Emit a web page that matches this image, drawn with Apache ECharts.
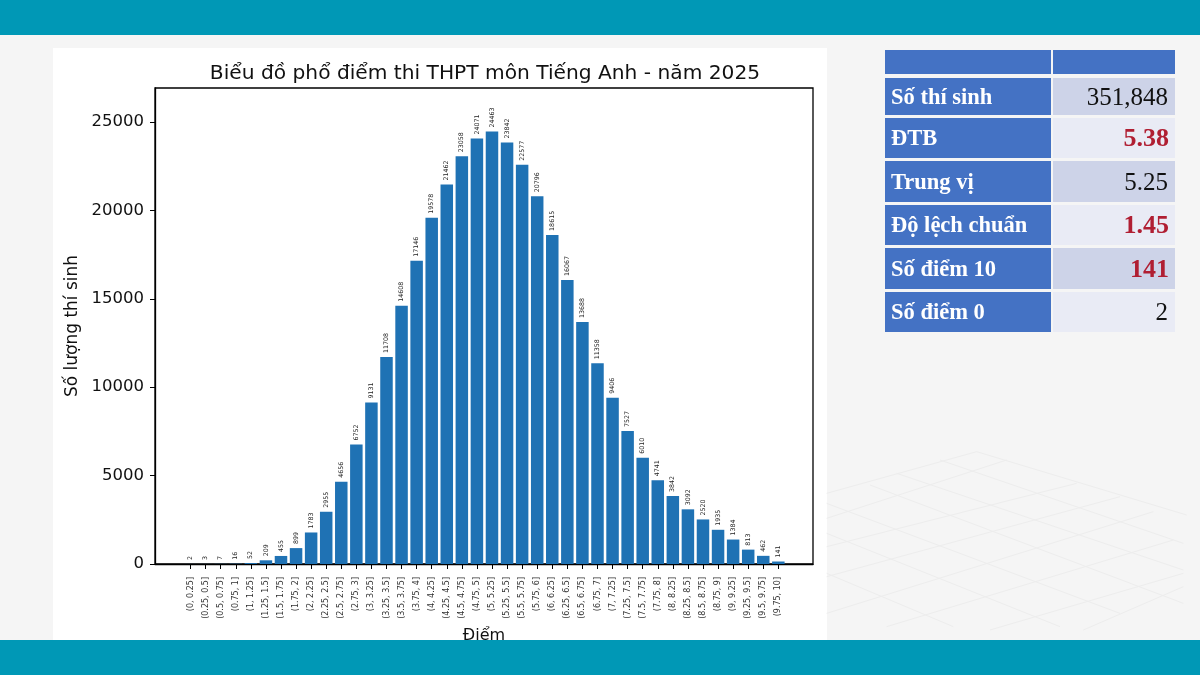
<!DOCTYPE html>
<html><head><meta charset="utf-8">
<style>html,body{margin:0;padding:0;background:#f5f5f5}#c{width:1200px;height:675px;filter:blur(0.4px)}</style>
<script src="https://cdn.jsdelivr.net/npm/echarts@6/dist/echarts.min.js"></script>
</head><body><div id="c"></div>
<script>
const categories = ['(0, 0.25]','(0.25, 0.5]','(0.5, 0.75]','(0.75, 1]','(1, 1.25]','(1.25, 1.5]','(1.5, 1.75]','(1.75, 2]','(2, 2.25]','(2.25, 2.5]','(2.5, 2.75]','(2.75, 3]','(3, 3.25]','(3.25, 3.5]','(3.5, 3.75]','(3.75, 4]','(4, 4.25]','(4.25, 4.5]','(4.5, 4.75]','(4.75, 5]','(5, 5.25]','(5.25, 5.5]','(5.5, 5.75]','(5.75, 6]','(6, 6.25]','(6.25, 6.5]','(6.5, 6.75]','(6.75, 7]','(7, 7.25]','(7.25, 7.5]','(7.5, 7.75]','(7.75, 8]','(8, 8.25]','(8.25, 8.5]','(8.5, 8.75]','(8.75, 9]','(9, 9.25]','(9.25, 9.5]','(9.5, 9.75]','(9.75, 10]'];
const counts = [2,3,7,16,52,209,455,899,1783,2955,4656,6752,9131,11708,14608,17146,19578,21462,23058,24071,24463,23842,22577,20796,18615,16067,13688,11358,9406,7527,6010,4741,3842,3092,2520,1935,1384,813,462,141];
const yTicks = [0,5000,10000,15000,20000,25000];
const tableLabels = ['Số thí sinh','ĐTB','Trung vị','Độ lệch chuẩn','Số điểm 10','Số điểm 0'];
const tableValues = ['351,848','5.38','5.25','1.45','141','2'];
const tableRed = [false,true,false,true,true,false];

const FONT = '"DejaVu Sans"';
const rowTops = [78,118,161,205,248,292], rowBottoms = [115,158,202,245,289,332];
const rowFill = ['#CDD3E8','#E9EBF5','#CDD3E8','#E9EBF5','#CDD3E8','#E9EBF5'];
const gridLines = [[470,35,1100,225],[360,60,1090,310],[230,100,1090,390],[150,135,1090,490],[20,190,900,520],[20,280,720,560],[20,400,400,560],
 [20,160,470,35],[20,235,560,60],[20,320,770,130],[20,410,900,170],[20,520,1000,215],[200,560,1060,300],[510,570,1090,400],[790,570,1090,440]];

const g = [];
const rect=(x,y,w,h,fill,z)=>g.push({type:'rect',silent:true,z,shape:{x,y,width:w,height:h},style:{fill}});
rect(53,48,774,592,'#ffffff',-10);
gridLines.forEach(l=>g.push({type:'line',silent:true,z:-9,shape:{x1:820+l[0]/3,y1:440+l[1]/3,x2:820+l[2]/3,y2:440+l[3]/3},style:{stroke:'#ededed',lineWidth:1}}));
rect(0,0,1200,35,'#0098B6',100);
rect(0,640,1200,35,'#0098B6',100);
rect(885,50,166,24,'#4472C4',5);
rect(1053,50,122,24,'#4472C4',5);
tableLabels.forEach((t,i)=>{
  const h=rowBottoms[i]-rowTops[i], mid=rowTops[i]+h/2+1.5;
  rect(885,rowTops[i],166,h,'#4472C4',5);
  rect(1053,rowTops[i],122,h,rowFill[i],5);
  g.push({type:'text',silent:true,z:6,style:{x:891,y:mid,text:t,fill:'#fff',font:'bold 22.5px "Liberation Serif"',textAlign:'left',textVerticalAlign:'middle'}});
  g.push({type:'text',silent:true,z:6,style:{x:tableRed[i]?1169:1168,y:mid,text:tableValues[i],fill:tableRed[i]?'#B01E32':'#111',font:(tableRed[i]?'bold 26px':'25px')+' "Liberation Serif"',textAlign:'right',textVerticalAlign:'middle'}});
});

const chart = echarts.init(document.getElementById('c'),null,{renderer:'canvas'});
chart.setOption({
  animation:false,
  backgroundColor:'#f5f5f5',
  title:{text:'Biểu đồ phổ điểm thi THPT môn Tiếng Anh - năm 2025',left:480,top:59,textAlign:'center',textStyle:{fontFamily:FONT,fontSize:20.2,fontWeight:'normal',color:'#111'}},
  grid:{left:155,top:88,width:658,height:476,show:true,borderColor:'#000',borderWidth:1.3,backgroundColor:'transparent'},
  xAxis:{type:'value',min:-2.36,max:41.3,
    name:'Điểm',nameLocation:'middle',nameGap:64,nameTextStyle:{fontFamily:FONT,fontSize:16,color:'#111'},
    splitLine:{show:false},axisLine:{onZero:false,lineStyle:{color:'#000',width:1.3}},
    axisTick:{customValues:categories.map((c,i)=>i),length:5,lineStyle:{color:'#000'}},
    axisLabel:{customValues:categories.map((c,i)=>i),formatter:v=>categories[v],rotate:90,margin:13,fontFamily:FONT,fontSize:8,color:'#333'}},
  yAxis:{type:'value',min:0,max:26923,
    name:'Số lượng thí sinh',nameLocation:'middle',nameGap:72,nameTextStyle:{fontFamily:FONT,fontSize:17,color:'#111'},
    splitLine:{show:false},axisLine:{show:true,onZero:false,lineStyle:{color:'#000',width:1.3}},
    axisTick:{show:true,customValues:yTicks,length:5,lineStyle:{color:'#000'}},
    axisLabel:{customValues:yTicks,formatter:v=>String(v),margin:11,fontFamily:FONT,fontSize:16.5,color:'#111'}},
  graphic:g,
  series:[{type:'bar',barWidth:12.5,data:counts.map((v,i)=>[i,v]),itemStyle:{color:'#1F72B4'},
    label:{show:true,position:'top',distance:4,rotate:90,align:'left',verticalAlign:'middle',fontFamily:FONT,fontSize:6.3,color:'#222',formatter:p=>p.value[1]}}]
});
</script></body></html>
